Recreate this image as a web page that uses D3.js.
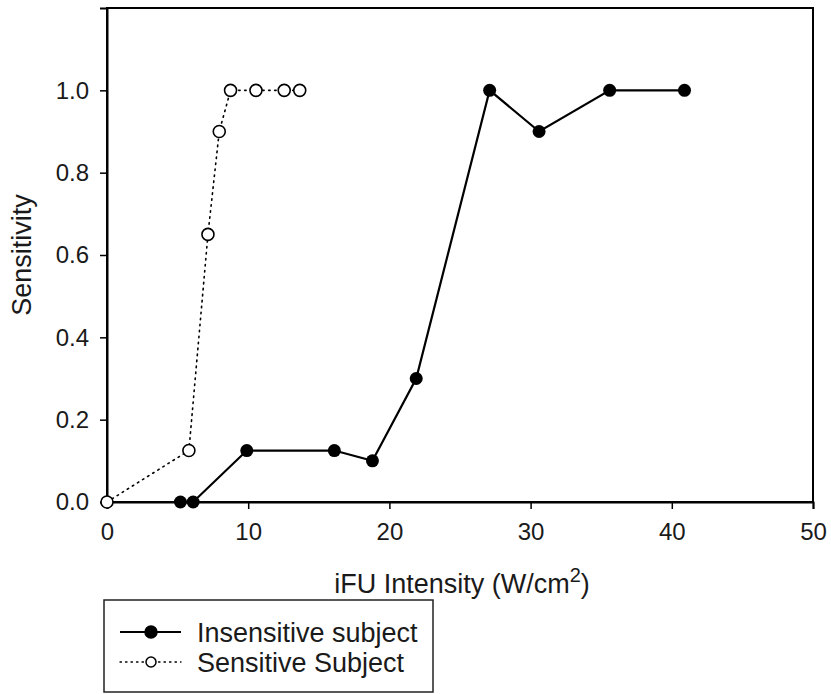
<!DOCTYPE html>
<html>
<head>
<meta charset="utf-8">
<script src="https://cdn.jsdelivr.net/npm/d3@7"></script>
<style>
  body { margin: 0; background: #fff; }
  svg { display: block; font-family: "Liberation Sans", Arial, sans-serif; }
</style>
</head>
<body>
<svg width="831" height="694"></svg>
<script>
// Insensitive subject
const insensX = [5.2, 6.1, 9.9, 16.1, 18.8, 21.9, 27.1, 30.6, 35.6, 40.9];
const insensY = [0, 0, 0.125, 0.125, 0.1, 0.3, 1.0, 0.9, 1.0, 1.0];

// Sensitive subject
const sensX = [0, 5.8, 7.15, 7.95, 8.75, 10.55, 12.55, 13.65];
const sensY = [0, 0.125, 0.65, 0.9, 1.0, 1.0, 1.0, 1.0];

const xTicks = [0, 10, 20, 30, 40, 50];
const yTicks = [0, 0.2, 0.4, 0.6, 0.8, 1.0];
const seriesNames = ["Insensitive subject", "Sensitive Subject"];

const svg = d3.select("svg");
const margin = { left: 107, right: 18, top: 8, bottom: 192 };
const width = 831, height = 694;

const x = d3.scaleLinear().domain([0, 50]).range([margin.left, width - margin.right]);
const y = d3.scaleLinear().domain([0, 1.2]).range([height - margin.bottom, margin.top]);

// frame
svg.append("rect")
    .attr("x", x(0)).attr("y", y(1.2))
    .attr("width", x(50) - x(0)).attr("height", y(0) - y(1.2))
    .attr("fill", "none").attr("stroke", "#000").attr("stroke-width", 2);

// axes
const xAxis = svg.append("g")
    .attr("transform", `translate(0,${y(0)})`)
    .call(d3.axisBottom(x).tickValues(xTicks).tickSize(7).tickPadding(14).tickFormat(d3.format("d")));
const yAxis = svg.append("g")
    .attr("transform", `translate(${x(0)},0)`)
    .call(d3.axisLeft(y).tickValues(yTicks).tickSize(7).tickPadding(11).tickFormat(d3.format(".1f")));

[xAxis, yAxis].forEach(a => {
    a.select(".domain").attr("stroke-width", 2);
    a.selectAll(".tick line").attr("stroke-width", 1.5);
    a.selectAll("text").attr("font-size", 24).attr("fill", "#1a1a1a")
        .attr("font-family", "'Liberation Sans', Arial, sans-serif");
});

// axis titles
const xTitle = svg.append("text")
    .attr("x", 462).attr("y", 593)
    .attr("text-anchor", "middle").attr("font-size", 27).attr("fill", "#1a1a1a");
xTitle.append("tspan").text("iFU Intensity (W/cm");
xTitle.append("tspan").attr("dy", -11).attr("font-size", 20).text("2");
xTitle.append("tspan").attr("dy", 11).text(")");

svg.append("text")
    .attr("transform", `translate(31,${(y(0) + y(1.2)) / 2}) rotate(-90)`)
    .attr("text-anchor", "middle").attr("font-size", 27).attr("fill", "#1a1a1a")
    .text("Sensitivity");

const line = d3.line().x(d => x(d[0])).y(d => y(d[1]));
const insens = insensX.map((v, i) => [v, insensY[i]]);
const sens = sensX.map((v, i) => [v, sensY[i]]);

// sensitive (dotted, open markers)
svg.append("path").datum(sens)
    .attr("d", line).attr("fill", "none").attr("stroke", "#000")
    .attr("stroke-width", 1.6).attr("stroke-dasharray", "1.5,4.5").attr("stroke-linecap", "round");

// insensitive (solid, filled markers)
svg.append("path").datum(insens)
    .attr("d", line).attr("fill", "none").attr("stroke", "#000").attr("stroke-width", 2.2);

svg.selectAll("circle.ins").data(insens).enter().append("circle")
    .attr("class", "ins")
    .attr("cx", d => x(d[0])).attr("cy", d => y(d[1])).attr("r", 6.5)
    .attr("fill", "#000");

svg.selectAll("circle.sen").data(sens).enter().append("circle")
    .attr("class", "sen")
    .attr("cx", d => x(d[0])).attr("cy", d => y(d[1])).attr("r", 6)
    .attr("fill", "#fff").attr("stroke", "#000").attr("stroke-width", 1.6);

// legend
const legend = svg.append("g");
legend.append("rect")
    .attr("x", 104).attr("y", 600).attr("width", 329).attr("height", 92)
    .attr("fill", "none").attr("stroke", "#222").attr("stroke-width", 1.5);

const rows = [
    { y: 632, dash: null, fill: "#000", w: 2.2, r: 6 },
    { y: 662, dash: "1.5,4", fill: "#fff", w: 1.3, r: 5 }
];
rows.forEach((r, i) => {
    legend.append("line")
        .attr("x1", 120).attr("x2", 181).attr("y1", r.y).attr("y2", r.y)
        .attr("stroke", "#000").attr("stroke-width", r.w)
        .attr("stroke-dasharray", r.dash).attr("stroke-linecap", r.dash ? "round" : "butt");
    legend.append("circle")
        .attr("cx", 151).attr("cy", r.y).attr("r", r.r)
        .attr("fill", r.fill).attr("stroke", "#000").attr("stroke-width", 1.5);
    legend.append("text")
        .attr("x", 197).attr("y", r.y + 10)
        .attr("font-size", 27).attr("fill", "#1a1a1a")
        .text(seriesNames[i]);
});
</script>
</body>
</html>
